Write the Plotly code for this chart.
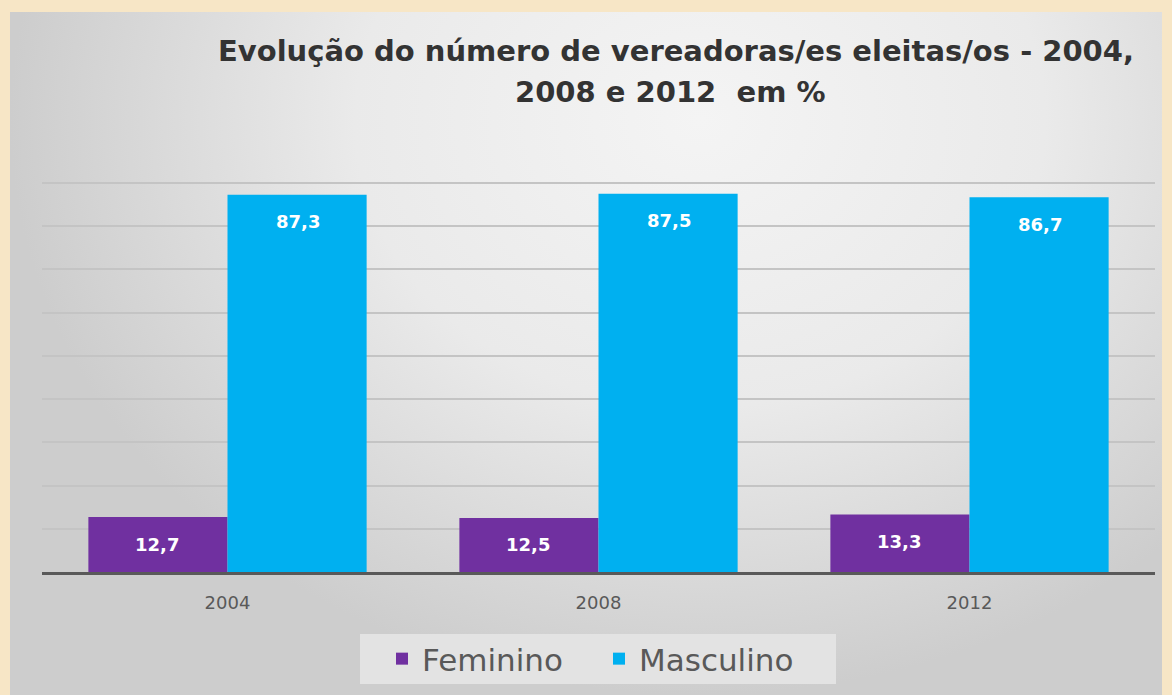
import plotly.graph_objects as go

W, H = 1172, 695

years = ["2004", "2008", "2012"]
feminino = [12.7, 12.5, 13.3]
masculino = [87.3, 87.5, 86.7]
fem_labels = ["12,7", "12,5", "13,3"]
masc_labels = ["87,3", "87,5", "86,7"]
title_line1 = "Evolução do número de vereadoras/es eleitas/os - 2004,"
title_line2 = "2008 e 2012  em %"

PURPLE = "#7030A0"
CYAN = "#00B0F0"

fig = go.Figure()

# decorative gray panel with radial gradient (first subplot, drawn underneath)
fig.add_trace(go.Scatter(
    x=[10, 1390, 1390, 10, 10], y=[-455, -455, 695, 695, -455],
    fill="toself", mode="lines", line=dict(width=0),
    fillgradient=dict(type="radial",
                      colorscale=[[0, "#F4F4F4"], [0.5, "#EAEAEA"], [1, "#CDCDCD"]]),
    hoverinfo="skip", showlegend=False, xaxis="x", yaxis="y"))

fig.add_trace(go.Bar(name="Feminino", x=years, y=feminino, marker=dict(color=PURPLE, line=dict(width=0)),
                     xaxis="x2", yaxis="y2"))
fig.add_trace(go.Bar(name="Masculino", x=years, y=masculino, marker=dict(color=CYAN, line=dict(width=0)),
                     xaxis="x2", yaxis="y2"))

annotations = []
off = 0.19
for i, (v, t) in enumerate(zip(feminino, fem_labels)):
    annotations.append(dict(x=i - off, y=v, xref="x2", yref="y2", text=f"<b>{t}</b>", showarrow=False,
                            yanchor="middle", yshift=-27,
                            font=dict(family="DejaVu Sans", size=18, color="white")))
for i, (v, t) in enumerate(zip(masculino, masc_labels)):
    annotations.append(dict(x=i + off, y=v, xref="x2", yref="y2", text=f"<b>{t}</b>", showarrow=False,
                            yanchor="middle", yshift=-27,
                            font=dict(family="DejaVu Sans", size=18, color="white")))

annotations.append(dict(x=676 / W, y=1 - 51 / H, xref="paper", yref="paper", text=f"<b>{title_line1}</b>",
                        showarrow=False, xanchor="center", yanchor="middle",
                        font=dict(family="DejaVu Sans", size=29, color="#333333")))
annotations.append(dict(x=670 / W, y=1 - 92 / H, xref="paper", yref="paper", text=f"<b>{title_line2}</b>",
                        showarrow=False, xanchor="center", yanchor="middle",
                        font=dict(family="DejaVu Sans", size=29, color="#333333")))

# y scale: 0 at 572 px, 90 at 183 px
px_per_unit = (572 - 183) / 90
y_top_val = 91
y_top_px = 572 - y_top_val * px_per_unit

fig.update_layout(
    width=W, height=H,
    margin=dict(l=0, r=0, t=0, b=0),
    paper_bgcolor="#F7E6C6",
    plot_bgcolor="rgba(0,0,0,0)",
    barmode="group", bargap=0.25, bargroupgap=0,
    showlegend=True,
    legend=dict(orientation="h", x=382 / W, y=1 - 659 / H, xanchor="left", yanchor="middle",
                bgcolor="rgba(0,0,0,0)", font=dict(family="DejaVu Sans", size=31, color="#595959"),
                itemwidth=30, traceorder="normal", entrywidth=172, entrywidthmode="pixels"),
    shapes=[dict(type="rect", xref="paper", yref="paper", x0=360 / W, x1=836 / W,
                 y0=1 - 684 / H, y1=1 - 634 / H, fillcolor="#E3E3E3", line=dict(width=0), layer="above")],
    annotations=annotations,
    xaxis=dict(domain=[10 / W, 1162 / W], range=[10, 1162], visible=False, fixedrange=True),
    yaxis=dict(domain=[0, 1 - 12 / H], range=[695, 12], visible=False, fixedrange=True),
    xaxis2=dict(domain=[42 / W, 1155 / W], anchor="y2", type="category",
                showline=True, linecolor="#595959", linewidth=3,
                ticks="", showgrid=False, automargin=False, ticklabelstandoff=12,
                tickfont=dict(family="DejaVu Sans", size=18, color="#595959")),
    yaxis2=dict(domain=[1 - 572 / H, 1 - y_top_px / H], anchor="x2", range=[0, y_top_val], dtick=10,
                showticklabels=False, showgrid=True, gridcolor="#C4C4C4", gridwidth=2,
                zeroline=False, automargin=False),
)

fig.write_html("out.html", config={"displayModeBar": False},
               post_script="document.body.style.margin='0';document.body.style.overflow='hidden';")
